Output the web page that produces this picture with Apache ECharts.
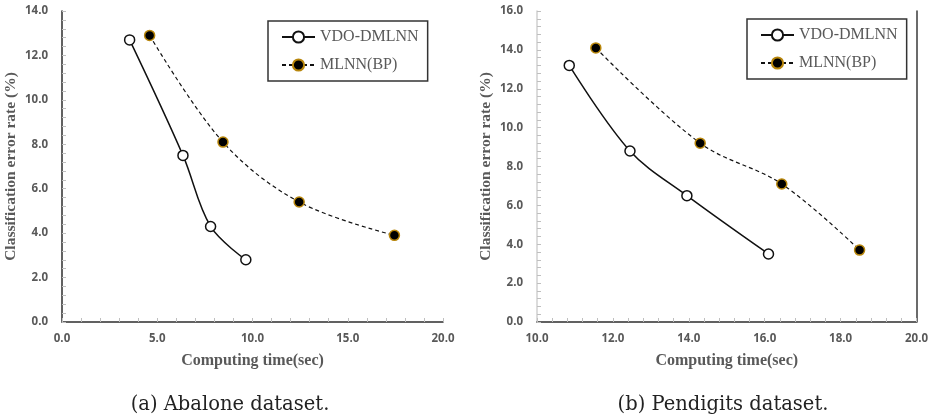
<!DOCTYPE html>
<html>
<head>
<meta charset="utf-8">
<script src="https://cdn.jsdelivr.net/npm/echarts@6/dist/echarts.min.js"></script>
<style>
html,body{margin:0;padding:0;background:#fff;}
#c{width:931px;height:416px;}
</style>
</head>
<body>
<div id="c"></div>
<script>
// Data
const seriesNames = ['VDO-DMLNN', 'MLNN(BP)'];
// (a) Abalone dataset
const abaloneVdoTime = [3.55, 6.35, 7.8, 9.65];
const abaloneVdoErr  = [12.7, 7.5, 4.3, 2.8];
const abaloneBpTime  = [4.6, 8.45, 12.45, 17.45];
const abaloneBpErr   = [12.9, 8.1, 5.4, 3.9];
// (b) Pendigits dataset
const pendVdoTime = [10.85, 12.45, 13.95, 16.1];
const pendVdoErr  = [13.2, 8.8, 6.5, 3.5];
const pendBpTime  = [11.55, 14.3, 16.45, 18.5];
const pendBpErr   = [14.1, 9.2, 7.1, 3.7];
const captions = ['(a) Abalone dataset.', '(b) Pendigits dataset.'];
const xTitle = 'Computing time(sec)';
const yTitle = 'Classification error rate (%)';

const pairs = (xs, ys) => xs.map((x, i) => [x, ys[i]]);

const chart = echarts.init(document.getElementById('c'), null, {renderer: 'canvas'});

const tickLabel = {fontFamily: 'Open Sans', fontWeight: 'bold', fontSize: 11.5, color: '#595959', formatter: v => v.toFixed(1)};
const xNameStyle = {fontFamily: 'Liberation Serif', fontWeight: 'bold', fontSize: 16, color: '#595959'};
const yNameStyle = {fontFamily: 'Liberation Serif', fontWeight: 'bold', fontSize: 15.5, color: '#595959'};
const axisLine = {show: true, lineStyle: {color: '#d0d0d0', width: 1.5}};
const axisTick = {show: true, inside: true, length: 4, lineStyle: {color: '#bfbfbf'}};
const minorTick = {show: true, splitNumber: 5, length: 4, lineStyle: {color: '#bfbfbf'}};

function mainX(grid, min, max, interval) {
  return {type: 'value', gridIndex: grid, min, max, interval, position: 'bottom',
    name: xTitle, nameLocation: 'middle', nameGap: 31, nameTextStyle: xNameStyle,
    axisLine, axisTick, minorTick, axisLabel: Object.assign({margin: 11}, tickLabel),
    splitLine: {show: false}};
}
function mainY(grid, min, max, interval) {
  return {type: 'value', gridIndex: grid, min, max, interval, position: 'left',
    name: yTitle, nameLocation: 'middle', nameGap: 43, nameTextStyle: yNameStyle,
    axisLine, axisTick, minorTick, axisLabel: Object.assign({margin: 14}, tickLabel),
    splitLine: {show: false}};
}
function frameX(grid, min, max) {
  return {type: 'value', gridIndex: grid, min, max, position: 'top',
    axisLine: {show: true, lineStyle: {color: '#3a3a3a', width: 1.5}},
    axisTick: {show: false}, axisLabel: {show: false}, splitLine: {show: false}};
}
function frameY(grid, min, max) {
  return {type: 'value', gridIndex: grid, min, max, position: 'right',
    axisLine: {show: true, lineStyle: {color: '#3a3a3a', width: 1.5}},
    axisTick: {show: false}, axisLabel: {show: false}, splitLine: {show: false}};
}

function vdoSeries(xi, yi, data) {
  return {name: seriesNames[0], type: 'line', xAxisIndex: xi, yAxisIndex: yi, data,
    smooth: 0.35, symbol: 'circle', symbolSize: 10,
    lineStyle: {color: '#111', width: 1.5},
    itemStyle: {color: '#fff', borderColor: '#111', borderWidth: 1.5}};
}
function bpSeries(xi, yi, data) {
  return {name: seriesNames[1], type: 'line', xAxisIndex: xi, yAxisIndex: yi, data,
    smooth: 0.35, symbol: 'circle', symbolSize: 10,
    lineStyle: {color: '#111', width: 1.2, type: [4, 3]},
    itemStyle: {color: '#000', borderColor: '#b8860b', borderWidth: 1.5}};
}

const legendCommon = {
  orient: 'vertical', itemWidth: 33, itemHeight: 14, itemGap: 12,
  padding: [8, 9, 8, 13], borderColor: '#333', borderWidth: 1.5, backgroundColor: '#fff',
  textStyle: {fontFamily: 'Liberation Serif', fontSize: 16, color: '#595959'},
  data: seriesNames
};

const captionStyle = {fontFamily: 'DejaVu Serif', fontWeight: 'normal', fontSize: 19.5, color: '#222'};

chart.setOption({
  animation: false,
  backgroundColor: '#fff',
  title: [
    {text: captions[0], left: 230, top: 395, textAlign: 'center', padding: 0, textStyle: captionStyle},
    {text: captions[1], left: 723, top: 395, textAlign: 'center', padding: 0, textStyle: captionStyle}
  ],
  grid: [
    {left: 62, right: 488, top: 11, bottom: 94},
    {left: 537, right: 14, top: 11, bottom: 94}
  ],
  xAxis: [mainX(0, 0, 20, 5), frameX(0, 0, 20), mainX(1, 10, 20, 2), frameX(1, 10, 20)],
  yAxis: [mainY(0, 0, 14, 2), frameY(0, 0, 14), mainY(1, 0, 16, 2), frameY(1, 0, 16)],
  legend: [
    Object.assign({left: 268, top: 21}, legendCommon),
    Object.assign({left: 747, top: 19}, legendCommon)
  ],
  series: [
    vdoSeries(0, 0, pairs(abaloneVdoTime, abaloneVdoErr)),
    bpSeries(0, 0, pairs(abaloneBpTime, abaloneBpErr)),
    vdoSeries(2, 2, pairs(pendVdoTime, pendVdoErr)),
    bpSeries(2, 2, pairs(pendBpTime, pendBpErr))
  ]
});
</script>
</body>
</html>
